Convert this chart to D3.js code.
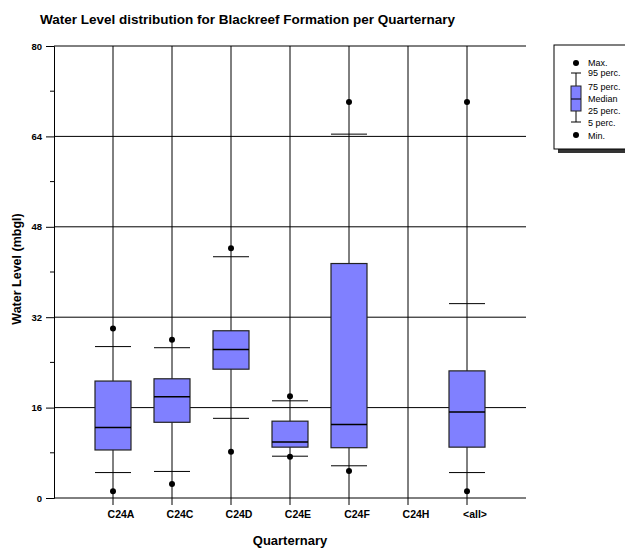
<!DOCTYPE html>
<html>
<head>
<meta charset="utf-8">
<script src="https://cdn.jsdelivr.net/npm/d3@7"></script>
<style>
body { margin: 0; background: #fff; }
svg { font-family: "Liberation Sans", Arial, sans-serif; }
</style>
</head>
<body>
<div id="chart"></div>
<script>
// box stats per quarternary
var categories = ["C24A", "C24C", "C24D", "C24E", "C24F", "C24H", "<all>"];
var minVals = [1.2, 2.5, 8.2, 7.3, 4.8, null, 1.2];
var p5Vals = [4.5, 4.7, 14.1, 7.4, 5.7, null, 4.5];
var q1Vals = [8.5, 13.4, 22.8, 9.0, 8.9, null, 9.0];
var medVals = [12.5, 17.9, 26.3, 9.9, 13.0, null, 15.2];
var q3Vals = [20.7, 21.1, 29.6, 13.6, 41.5, null, 22.5];
var p95Vals = [26.8, 26.6, 42.7, 17.2, 64.4, null, 34.4];
var maxVals = [30.0, 28.0, 44.2, 18.0, 70.1, null, 70.1];
var yTicks = [0, 16, 32, 48, 64, 80];
var yMinorTicks = [8, 24, 40, 56, 72];
var legendLabels = ["Max.", "95 perc.", "75 perc.", "Median", "25 perc.", "5 perc.", "Min."];

var svgWidth = 625, svgHeight = 550;
var margin = { top: 46, left: 54, right: 99, bottom: 52 };
var width = svgWidth - margin.left - margin.right;
var height = svgHeight - margin.top - margin.bottom;

var svg = d3.select("#chart").append("svg")
    .attr("width", svgWidth)
    .attr("height", svgHeight);

var chartGroup = svg.append("g")
    .attr("transform", `translate(${margin.left}, ${margin.top})`);

var xScale = d3.scalePoint()
    .domain(categories)
    .range([0, width])
    .padding(1);

var yScale = d3.scaleLinear()
    .domain([0, 80])
    .range([height, 0]);

var data = categories.map(function (c, i) {
    return { cat: c, min: minVals[i], p5: p5Vals[i], q1: q1Vals[i], med: medVals[i],
        q3: q3Vals[i], p95: p95Vals[i], max: maxVals[i] };
});

// horizontal grid
chartGroup.selectAll(".hgrid")
    .data(yTicks.slice(1))
    .enter()
    .append("line")
    .attr("x1", 0)
    .attr("x2", width)
    .attr("y1", d => yScale(d))
    .attr("y2", d => yScale(d))
    .attr("stroke", "#000")
    .attr("stroke-width", 1);

// vertical lines at each category
chartGroup.selectAll(".vgrid")
    .data(categories)
    .enter()
    .append("line")
    .attr("x1", d => xScale(d))
    .attr("x2", d => xScale(d))
    .attr("y1", 0)
    .attr("y2", height + 7)
    .attr("stroke", "#000")
    .attr("stroke-width", 1);

// y axis
var leftAxis = d3.axisLeft(yScale).tickValues(yTicks).tickSize(8).tickFormat(d3.format("d"));
var yAxis = chartGroup.append("g").call(leftAxis);
yAxis.select(".domain").attr("stroke", "#000");
yAxis.selectAll("text")
    .attr("font-size", "9.5px")
    .attr("font-weight", "bold")
    .attr("fill", "#000")
    .attr("x", -12);
yAxis.selectAll(".tick line").attr("stroke", "#000");

chartGroup.selectAll(".minor")
    .data(yMinorTicks)
    .enter()
    .append("line")
    .attr("x1", -4)
    .attr("x2", 0)
    .attr("y1", d => yScale(d))
    .attr("y2", d => yScale(d))
    .attr("stroke", "#000");

// x axis
chartGroup.append("line")
    .attr("x1", 0)
    .attr("x2", width)
    .attr("y1", height)
    .attr("y2", height)
    .attr("stroke", "#000");

chartGroup.selectAll(".xlab")
    .data(categories)
    .enter()
    .append("text")
    .attr("x", d => xScale(d) + 8)
    .attr("y", height + 20)
    .attr("text-anchor", "middle")
    .attr("font-size", "10.5px")
    .attr("font-weight", "bold")
    .text(d => d);

var boxW = 36;
var boxes = chartGroup.selectAll(".box")
    .data(data.filter(d => d.med !== null))
    .enter()
    .append("g");

boxes.append("rect")
    .attr("x", d => xScale(d.cat) - boxW / 2)
    .attr("y", d => yScale(d.q3))
    .attr("width", boxW)
    .attr("height", d => yScale(d.q1) - yScale(d.q3))
    .attr("fill", "#8080ff")
    .attr("stroke", "#222")
    .attr("stroke-width", 1.2);

boxes.append("line")
    .attr("x1", d => xScale(d.cat) - boxW / 2)
    .attr("x2", d => xScale(d.cat) + boxW / 2)
    .attr("y1", d => yScale(d.med))
    .attr("y2", d => yScale(d.med))
    .attr("stroke", "#000")
    .attr("stroke-width", 1.5);

["p5", "p95"].forEach(function (k) {
    boxes.append("line")
        .attr("x1", d => xScale(d.cat) - boxW / 2)
        .attr("x2", d => xScale(d.cat) + boxW / 2)
        .attr("y1", d => yScale(d[k]))
        .attr("y2", d => yScale(d[k]))
        .attr("stroke", "#000");
});

["min", "max"].forEach(function (k) {
    boxes.append("circle")
        .attr("cx", d => xScale(d.cat))
        .attr("cy", d => yScale(d[k]))
        .attr("r", 3)
        .attr("fill", "#000");
});

// titles
svg.append("text")
    .attr("x", 40)
    .attr("y", 24)
    .attr("font-size", "13.5px")
    .attr("font-weight", "bold")
    .text("Water Level distribution for Blackreef Formation per Quarternary");

svg.append("text")
    .attr("transform", "translate(21, 269) rotate(-90)")
    .attr("text-anchor", "middle")
    .attr("font-size", "12.5px")
    .attr("font-weight", "bold")
    .text("Water Level (mbgl)");

svg.append("text")
    .attr("x", margin.left + width / 2)
    .attr("y", 545)
    .attr("text-anchor", "middle")
    .attr("font-size", "13px")
    .attr("font-weight", "bold")
    .text("Quarternary");

// legend
var legend = svg.append("g").attr("transform", "translate(554, 45)");
legend.append("rect")
    .attr("x", 4).attr("y", 4).attr("width", 80).attr("height", 104)
    .attr("fill", "#333");
legend.append("rect")
    .attr("x", 0).attr("y", 0).attr("width", 80).attr("height", 104)
    .attr("fill", "#fff").attr("stroke", "#000");

var lx = 22;
legend.append("circle").attr("cx", lx).attr("cy", 18).attr("r", 3).attr("fill", "#000");
legend.append("line").attr("x1", lx - 5).attr("x2", lx + 5).attr("y1", 28).attr("y2", 28).attr("stroke", "#000");
legend.append("line").attr("x1", lx).attr("x2", lx).attr("y1", 28).attr("y2", 77).attr("stroke", "#000");
legend.append("rect").attr("x", lx - 5).attr("y", 41).attr("width", 10).attr("height", 25)
    .attr("fill", "#8080ff").attr("stroke", "#222");
legend.append("line").attr("x1", lx - 5).attr("x2", lx + 5).attr("y1", 54).attr("y2", 54).attr("stroke", "#000");
legend.append("line").attr("x1", lx - 5).attr("x2", lx + 5).attr("y1", 77).attr("y2", 77).attr("stroke", "#000");
legend.append("circle").attr("cx", lx).attr("cy", 90).attr("r", 3).attr("fill", "#000");

var legendY = [18, 28, 42, 54, 66, 78, 91];
legend.selectAll(".ltext")
    .data(legendLabels)
    .enter()
    .append("text")
    .attr("x", 34)
    .attr("y", (d, i) => legendY[i] + 3)
    .attr("font-size", "9px")
    .text(d => d);
</script>
</body>
</html>
